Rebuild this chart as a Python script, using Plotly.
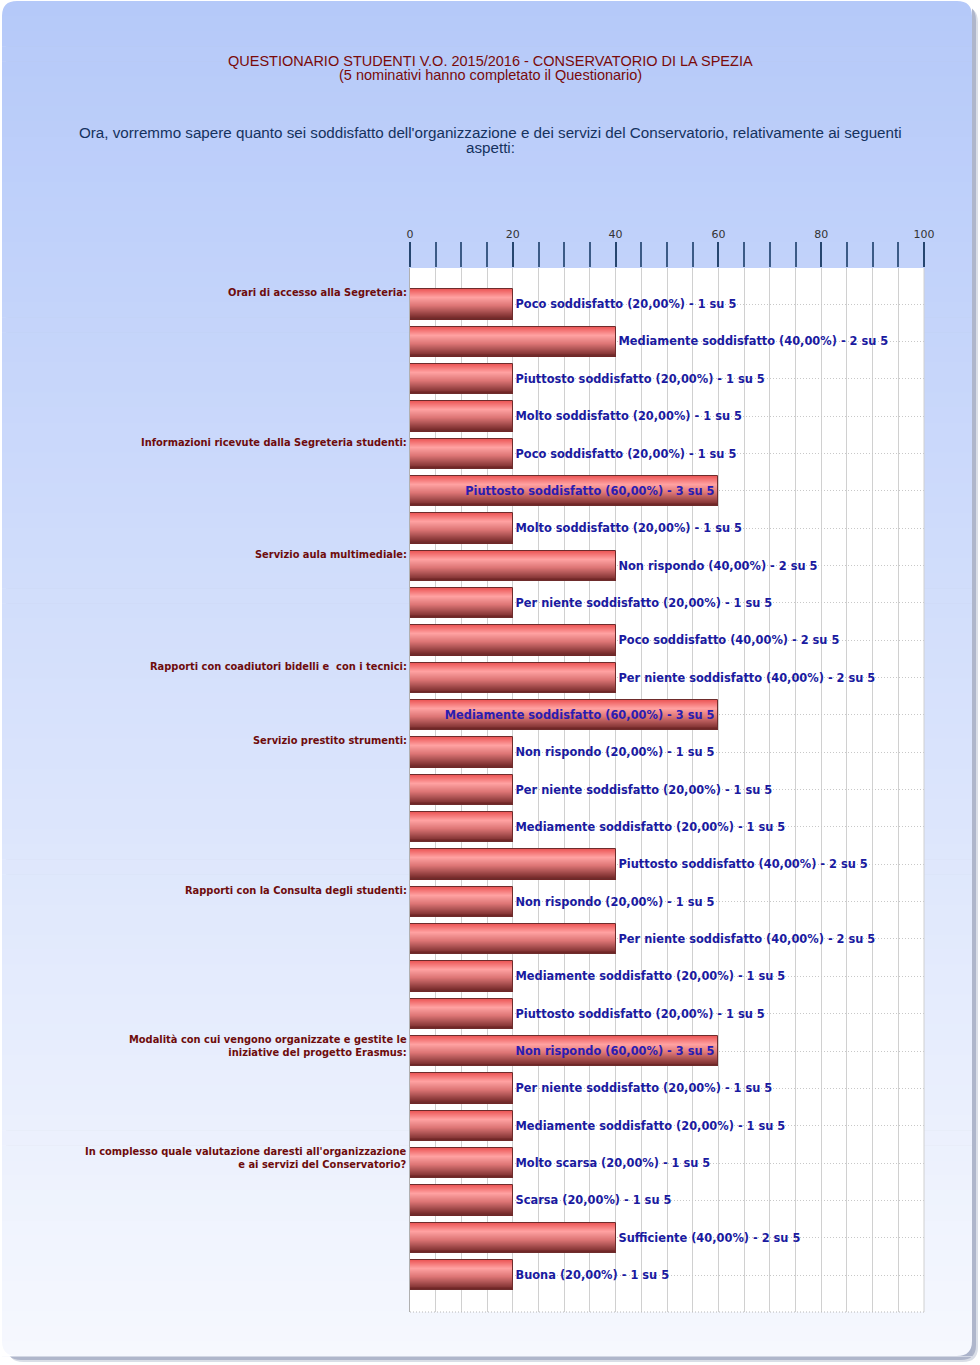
import plotly.graph_objects as go

# ---------------- data ----------------
group_labels = [
    "Orari di accesso alla Segreteria:",
    "Informazioni ricevute dalla Segreteria studenti:",
    "Servizio aula multimediale:",
    "Rapporti con coadiutori bidelli e  con i tecnici:",
    "Servizio prestito strumenti:",
    "Rapporti con la Consulta degli studenti:",
    "Modalità con cui vengono organizzate e gestite le<br>iniziative del progetto Erasmus:",
    "In complesso quale valutazione daresti all'organizzazione<br>e ai servizi del Conservatorio?",
]
group_sizes = [4, 3, 3, 2, 4, 4, 3, 4]

answers = [
    "Poco soddisfatto", "Mediamente soddisfatto", "Piuttosto soddisfatto", "Molto soddisfatto",
    "Poco soddisfatto", "Piuttosto soddisfatto", "Molto soddisfatto",
    "Non rispondo", "Per niente soddisfatto", "Poco soddisfatto",
    "Per niente soddisfatto", "Mediamente soddisfatto",
    "Non rispondo", "Per niente soddisfatto", "Mediamente soddisfatto", "Piuttosto soddisfatto",
    "Non rispondo", "Per niente soddisfatto", "Mediamente soddisfatto", "Piuttosto soddisfatto",
    "Non rispondo", "Per niente soddisfatto", "Mediamente soddisfatto",
    "Molto scarsa", "Scarsa", "Sufficiente", "Buona",
]
percentages = [20, 40, 20, 20, 20, 60, 20, 40, 20, 40, 40, 60, 20, 20, 20, 40,
               20, 40, 20, 20, 60, 20, 20, 20, 20, 40, 20]
counts = [1, 2, 1, 1, 1, 3, 1, 2, 1, 2, 2, 3, 1, 1, 1, 2,
          1, 2, 1, 1, 3, 1, 1, 1, 1, 2, 1]
total = 5

title_lines = ["QUESTIONARIO STUDENTI V.O. 2015/2016 - CONSERVATORIO DI LA SPEZIA",
               "(5 nominativi hanno completato il Questionario)"]
subtitle_lines = ["Ora, vorremmo sapere quanto sei soddisfatto dell'organizzazione e dei servizi del Conservatorio, relativamente ai seguenti",
                  "aspetti:"]
x_ticks = [0, 20, 40, 60, 80, 100]

# ---------------- layout geometry ----------------
W, H = 980, 1365
ML, MR, MT, MB = 410, 56, 268, 53
PW, PH = W - ML - MR, H - MT - MB


def px(xp):
    return (xp - ML) / PW


def py(yp):
    return (H - MB - yp) / PH


idx = list(range(len(percentages)))
texts = [f"{a} ({p:.2f}%)".replace(".", ",") + f" - {c} su {total}"
         for a, p, c in zip(answers, percentages, counts)]
positions = ["inside" if p >= 60 else "outside" for p in percentages]

fig = go.Figure()


def lerp(c1, c2, t):
    return tuple(round(a + (b - a) * t) for a, b in zip(c1, c2))


stops = [(0.0, (236, 86, 86)), (0.28, (255, 162, 162)), (0.55, (222, 118, 118)),
         (1.0, (108, 36, 36))]


def grad(t):
    for (t0, c0), (t1, c1) in zip(stops[:-1], stops[1:]):
        if t <= t1:
            return lerp(c0, c1, (t - t0) / (t1 - t0))
    return stops[-1][1]


BW = 0.8
N = 30
step = BW / N
for i in range(N):
    t = (i + 0.5) / N
    c = grad(t)
    w = min(step * 2.2, BW - i * step)
    fig.add_trace(go.Bar(
        x=percentages, y=idx, orientation="h",
        width=w, offset=-BW / 2 + i * step,
        marker=dict(color=f"rgb{c}", line=dict(width=0)),
        hoverinfo="skip", showlegend=False))

fig.add_trace(go.Bar(
    x=percentages, y=idx, orientation="h", width=BW, offset=-BW / 2,
    marker=dict(color="rgba(0,0,0,0)", line=dict(color="#6e2c2c", width=1)),
    text=texts, textposition=positions, insidetextanchor="end",
    constraintext="none", cliponaxis=False,
    insidetextfont=dict(family="DejaVu Sans", size=11.4, color="#2a1cb0", weight="bold"),
    outsidetextfont=dict(family="DejaVu Sans", size=11.4, color="#1a1aa0", weight="bold"),
    hovertemplate="%{text}<extra></extra>", showlegend=False))

shapes = []
r = 15
fx0, fx1, fy0, fy1 = 2, 972, 1, 1356


def rounded(x0, y0, x1, y1, rad):
    return (f"M {px(x0 + rad)},{py(y0)} L {px(x1 - rad)},{py(y0)} "
            f"Q {px(x1)},{py(y0)} {px(x1)},{py(y0 + rad)} "
            f"L {px(x1)},{py(y1 - rad)} Q {px(x1)},{py(y1)} {px(x1 - rad)},{py(y1)} "
            f"L {px(x0 + rad)},{py(y1)} Q {px(x0)},{py(y1)} {px(x0)},{py(y1 - rad)} "
            f"L {px(x0)},{py(y0 + rad)} Q {px(x0)},{py(y0)} {px(x0 + rad)},{py(y0)} Z")


for off, col in [(6, "rgba(150,160,185,0.35)"), (4, "rgba(140,150,180,0.55)")]:
    shapes.append(dict(type="path", xref="paper", yref="paper", layer="below",
                       path=rounded(fx0 + off, fy0 + off, fx1 + off, fy1 + off, r),
                       fillcolor=col, line=dict(width=0)))

top_c, bot_c = (181, 201, 249), (246, 248, 254)
NB = 90
for k in range(NB):
    y0 = fy0 + (fy1 - fy0) * k / NB
    y1 = fy0 + (fy1 - fy0) * (k + 1) / NB
    c = lerp(top_c, bot_c, (k + 0.5) / NB)
    shapes.append(dict(type="rect", xref="paper", yref="paper", layer="below",
                       x0=px(fx0), x1=px(fx1), y0=py(y0), y1=py(y1 + 0.6),
                       fillcolor=f"rgb{c}", line=dict(width=0)))

for (cx, cy, sx, sy, col) in [(fx0, fy0, 1, 1, "white"), (fx1, fy0, -1, 1, "white"),
                              (fx0, fy1, 1, -1, "white"), (fx1, fy1, -1, -1, "rgba(140,150,180,0.7)")]:
    shapes.append(dict(type="path", xref="paper", yref="paper", layer="below",
                       path=(f"M {px(cx)},{py(cy)} L {px(cx + sx * r)},{py(cy)} "
                             f"Q {px(cx)},{py(cy)} {px(cx)},{py(cy + sy * r)} Z"),
                       fillcolor=col, line=dict(width=0)))

shapes.append(dict(type="rect", xref="paper", yref="paper", layer="below",
                   x0=0, x1=1, y0=0, y1=1, fillcolor="white", line=dict(width=0)))
shapes.append(dict(type="line", xref="paper", yref="paper", x0=0, x1=1, y0=0, y1=0,
                   line=dict(color="#b8b8b8", width=1, dash="1px,2px")))
shapes.append(dict(type="line", xref="paper", yref="paper", x0=1, x1=1, y0=0, y1=1,
                   line=dict(color="#d0d0d0", width=1)))

annotations = []
for j, line in enumerate(title_lines):
    annotations.append(dict(text=line, xref="paper", yref="paper", x=px(490), y=py(61 + 14 * j),
                            xanchor="center", yanchor="middle", showarrow=False,
                            font=dict(family="Liberation Sans", size=14.5, color="#7a0a0a")))
for j, line in enumerate(subtitle_lines):
    annotations.append(dict(text=line, xref="paper", yref="paper", x=px(490), y=py(132 + 15 * j),
                            xanchor="center", yanchor="middle", showarrow=False,
                            font=dict(family="Liberation Sans", size=15.2, color="#15325e")))

start = 0
for lab, n in zip(group_labels, group_sizes):
    annotations.append(dict(text=lab, xref="paper", yref="y", x=0, y=start,
                            xanchor="right", yanchor="top", xshift=-1, yshift=19,
                            align="right", showarrow=False,
                            font=dict(family="DejaVu Sans", size=9.9, color="#6e0c0c", weight="bold")))
    start += n

fig.update_layout(
    width=W, height=H,
    margin=dict(l=ML, r=MR, t=MT, b=MB, pad=0),
    paper_bgcolor="white", plot_bgcolor="rgba(0,0,0,0)",
    barmode="overlay", bargap=0,
    shapes=shapes, annotations=annotations,
    xaxis=dict(range=[0, 100], side="top", tickvals=x_ticks,
               ticks="outside", ticklen=25, tickwidth=2, tickcolor="#26466f",
               tickfont=dict(family="DejaVu Sans", size=11, color="#333333"),
               showgrid=True, gridcolor="#d0d0d0", gridwidth=1,
               minor=dict(dtick=5, ticks="outside", ticklen=25, tickwidth=1.5,
                          tickcolor="#3c5b86", showgrid=True, gridcolor="#d0d0d0", gridwidth=1),
               zeroline=False, showline=False, fixedrange=True),
    yaxis=dict(range=[26.99, -0.97], showticklabels=False, ticks="",
               tickmode="linear", tick0=0, dtick=1,
               showgrid=True, gridcolor="#c8c8c8", griddash="1px,2px", gridwidth=1,
               zeroline=False, showline=True, linecolor="#b0b0b0", linewidth=1,
               fixedrange=True),
    font=dict(family="DejaVu Sans"),
)

fig.write_html("out.html", config={"displayModeBar": False},
               post_script="document.body.style.margin='0';document.body.style.overflow='hidden';")
